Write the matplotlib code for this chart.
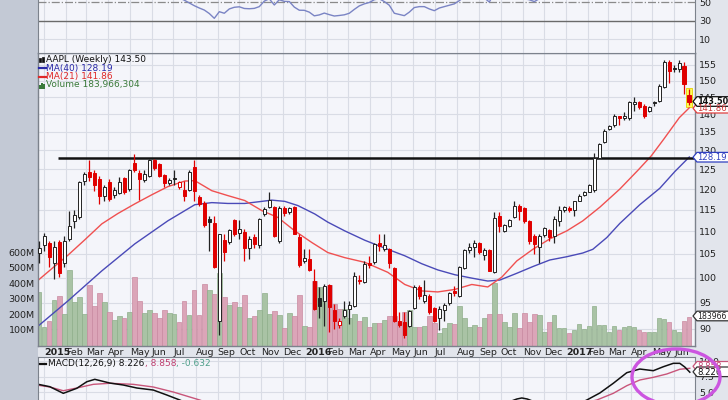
import datetime as dt
import numpy as np
import matplotlib
matplotlib.use("Agg")
import matplotlib.pyplot as plt
from matplotlib.patches import Rectangle, Ellipse, Polygon
from matplotlib.lines import Line2D

plt.rcParams['font.family'] = ['DejaVu Sans']

# ---------------- data (weekly AAPL) ----------------
first_bar = dt.date(2014, 12, 19)
prev_close0 = 105.0
opens = [105.3, 106.9, 107.3, 103.1, 107.6, 103.1, 108.2, 112.4, 113.2, 122.1,
         124.2, 124.0, 122.6, 118.4, 121.7, 118.6, 119.1, 122.8, 120.0, 126.6,
         124.0, 122.3, 123.4, 127.5, 126.3, 123.5, 121.4, 122.8, 120.5, 119.8,
         119.8, 125.6, 118.1, 116.6, 112.8, 112.0, 91.5, 108.0, 107.7, 112.6,
         109.7, 109.9, 106.3, 108.8, 107.0, 113.9, 115.7, 115.7, 107.8, 115.5,
         114.5, 115.7, 108.8, 103.4, 103.9, 99.3, 95.8, 95.3, 98.5, 93.5,
         90.8, 92.4, 93.7, 94.4, 99.6, 99.2, 103.0, 103.2, 107.5, 106.0,
         106.0, 102.0, 91.5, 91.2, 90.6, 94.0, 98.0, 95.4, 96.3, 93.9,
         92.1, 93.5, 94.9, 97.2, 96.3, 102.0, 105.9, 106.6, 107.5, 104.8,
         105.8, 101.1, 113.6, 110.1, 111.3, 113.3, 116.0, 115.4, 112.3, 109.0,
         106.6, 109.2, 110.3, 109.0, 112.3, 114.9, 115.5, 114.9, 117.2, 118.6,
         119.4, 119.8, 128.0, 132.3, 135.8, 136.9, 139.4, 138.9, 139.0, 143.0,
         143.5, 142.5, 141.0, 143.6, 144.0, 148.2, 155.8, 153.9, 153.6, 154.5,
         145.5]
highs = [107.9, 109.6, 107.9, 107.9, 108.0, 109.0, 114.8, 115.0, 122.1, 124.2,
         127.5, 124.7, 123.4, 120.9, 122.4, 120.5, 123.0, 123.1, 125.1, 129.0,
         124.9, 124.7, 127.7, 127.7, 126.6, 123.8, 122.8, 124.7, 122.1, 122.1,
         124.9, 127.5, 118.6, 117.2, 113.6, 113.6, 109.5, 109.3, 110.5, 112.8,
         112.6, 110.5, 109.0, 109.4, 113.1, 115.7, 119.4, 116.0, 116.0, 116.0,
         115.7, 116.0, 109.5, 106.1, 106.1, 101.8, 98.1, 98.6, 98.6, 94.8,
         92.0, 95.3, 95.3, 101.1, 100.5, 103.5, 104.6, 107.5, 109.5, 109.5,
         106.2, 102.2, 93.1, 93.1, 93.5, 98.5, 98.5, 99.6, 96.6, 94.1,
         94.4, 95.0, 97.0, 98.2, 102.5, 106.0, 107.4, 108.1, 107.7, 106.2,
         106.0, 114.4, 114.5, 111.6, 112.9, 117.2, 116.4, 115.6, 112.6, 109.4,
         109.4, 111.0, 110.5, 113.6, 116.0, 116.0, 116.0, 117.2, 118.8, 119.5,
         121.3, 129.3, 132.0, 135.7, 136.9, 140.1, 139.6, 140.5, 144.0, 145.0,
         144.0, 143.0, 142.5, 144.0, 149.1, 156.4, 156.4, 154.8, 156.4, 156.0,
         147.6]
lows = [103.1, 105.7, 102.2, 99.8, 100.2, 102.3, 107.9, 110.7, 112.9, 120.9,
        122.1, 119.6, 116.4, 117.2, 117.2, 117.7, 118.8, 118.9, 119.6, 124.2,
        117.4, 121.7, 122.9, 124.7, 122.9, 120.5, 120.9, 120.9, 120.0, 117.2,
        119.6, 117.2, 116.0, 111.1, 105.7, 101.9, 88.8, 103.5, 107.2, 109.0,
        108.3, 103.5, 104.0, 106.2, 106.4, 113.6, 115.5, 108.7, 107.3, 113.6,
        114.1, 109.4, 102.2, 103.0, 101.3, 93.6, 92.1, 90.6, 89.4, 90.0,
        90.2, 92.1, 90.9, 94.1, 98.6, 98.9, 102.1, 102.9, 105.7, 105.7,
        102.1, 91.2, 90.3, 88.4, 90.3, 93.8, 95.6, 94.9, 92.8, 91.2,
        89.7, 91.5, 94.6, 96.2, 96.1, 101.8, 105.3, 104.3, 104.9, 103.8,
        101.3, 100.9, 109.9, 109.9, 111.0, 113.0, 112.5, 112.0, 107.2, 105.0,
        103.1, 108.8, 107.9, 107.4, 111.3, 114.5, 114.5, 113.6, 117.0, 118.4,
        119.2, 119.2, 127.9, 131.9, 135.4, 136.3, 136.9, 138.4, 138.4, 141.0,
        141.5, 139.0, 140.6, 142.5, 143.7, 147.9, 149.2, 152.8, 152.6, 145.9,
        142.8]
closes = [106.4, 108.9, 104.3, 106.6, 100.9, 107.9, 111.2, 113.7, 121.7, 123.8,
          123.0, 120.9, 118.4, 120.5, 117.6, 119.8, 121.7, 119.3, 124.9, 124.7,
          122.5, 123.8, 127.3, 125.4, 123.4, 121.6, 122.3, 122.4, 121.7, 118.4,
          124.4, 119.6, 116.4, 111.5, 112.1, 102.2, 109.3, 105.4, 110.3, 109.5,
          110.6, 106.4, 108.3, 107.2, 112.8, 115.2, 117.3, 108.9, 115.5, 114.3,
          115.3, 109.5, 102.7, 104.1, 101.5, 93.8, 94.3, 98.3, 94.2, 91.5,
          91.4, 93.5, 94.5, 100.4, 99.4, 102.9, 102.6, 107.1, 106.8, 106.9,
          103.0, 91.5, 90.8, 88.8, 93.3, 98.1, 96.3, 96.4, 93.1, 91.5,
          93.8, 94.6, 96.9, 96.8, 102.2, 105.9, 106.5, 107.5, 105.4, 105.8,
          101.4, 113.1, 111.3, 111.4, 112.6, 116.0, 114.8, 112.3, 107.9, 107.2,
          109.0, 110.7, 108.8, 112.8, 115.0, 115.6, 115.0, 117.0, 118.4, 119.2,
          120.9, 128.0, 131.6, 135.2, 136.6, 139.6, 138.9, 139.5, 143.5, 143.7,
          142.0, 139.6, 142.2, 143.3, 148.5, 155.8, 153.0, 153.6, 155.5, 148.9,
          143.5]
volume_m = [345, 121, 158, 294, 320, 205, 485, 283, 313, 201,
            390, 255, 341, 281, 216, 163, 190, 175, 216, 442,
            285, 212, 229, 212, 175, 229, 208, 205, 154, 287,
            197, 358, 197, 399, 356, 330, 470, 313, 261, 283,
            248, 326, 179, 190, 227, 337, 201, 223, 197, 115,
            208, 190, 326, 126, 121, 416, 377, 377, 390, 270,
            234, 234, 179, 205, 158, 184, 119, 147, 147, 163,
            190, 190, 147, 218, 227, 119, 119, 126, 190, 147,
            83, 115, 147, 140, 255, 179, 119, 132, 119, 175,
            201, 405, 201, 154, 121, 210, 111, 208, 154, 201,
            195, 89, 150, 195, 111, 115, 79, 98, 137, 108,
            126, 255, 132, 132, 87, 126, 98, 119, 126, 121,
            100, 87, 87, 87, 179, 169, 152, 100, 87, 158,
            184]

ma40_bar = [-0.5, 5.7, 12.5, 19.1, 25.7, 31.1, 34.5, 37.7, 41.1, 44.5, 46.5, 49.1,
            51.7, 55.1, 57.7, 61.1, 65.1, 69.7, 73.1, 76.5, 79.7, 83.1, 86.5, 89.7,
            92.1, 95.5, 98.7, 102.1, 105.5, 108.7, 110.7, 113.5, 116.1, 120.1, 124.1,
            127.1, 130.0]
ma40_val = [90.3, 95.3, 101.4, 107.2, 112.4, 116.2, 116.7, 116.5, 116.5, 117.0, 117.3, 117.0,
            116.0, 114.0, 112.1, 110.1, 108.0, 106.0, 104.6, 102.9, 101.6, 100.6, 99.9, 99.3,
            99.5, 100.9, 102.3, 103.7, 104.4, 105.2, 106.0, 108.6, 111.8, 116.2, 120.2,
            124.4, 128.19]
ma21_bar = [-0.3, 3.1, 5.7, 9.1, 12.5, 15.7, 19.1, 22.5, 25.7, 29.1, 31.1, 34.5, 37.7,
            41.1, 44.5, 47.7, 51.1, 54.5, 57.7, 61.1, 65.1, 69.7, 73.1, 76.5, 79.7,
            83.1, 86.5, 89.7, 92.5, 95.5, 98.7, 102.1, 105.5, 108.7, 112.1, 116.1,
            119.7, 122.4, 124.9, 128.0, 130.0]
ma21_val = [99.4, 102.4, 104.7, 108.1, 111.7, 114.1, 116.4, 118.6, 120.6, 122.0, 122.1, 119.6, 118.4,
            117.2, 114.8, 113.2, 110.1, 107.5, 105.3, 104.2, 103.2, 101.1, 98.6, 97.3, 97.1,
            97.6, 98.6, 98.1, 100.1, 103.5, 106.0, 108.3, 110.1, 112.4, 115.6, 120.0,
            124.7, 128.5, 133.0, 139.0, 141.86]
resistance_level = 128.0
resistance_from_bar = 3.7

rsi_first_bar = 26
rsi_vals = [58, 56, 55, 52.5, 49.5, 46.5, 44.0, 41.8, 38.0, 32.8,
            40.0, 38.3, 43.0, 44.8, 45.3, 43.5, 43.2, 43.6, 45.5, 51.5,
            54.0, 47.3, 53.0, 51.2, 51.0, 45.0, 41.6, 41.5, 39.5, 35.5,
            36.5, 38.5, 36.8, 35.3, 35.9, 36.6, 38.3, 42.5, 46.3, 48.5,
            50.0, 53.0, 54.0, 51.0, 47.0, 38.3, 37.0, 35.7, 39.5, 44.5,
            45.5, 45.5, 43.0, 41.1, 44.0, 45.5, 47.0, 48.5, 52.0, 56.0,
            57.0, 57.0, 54.0, 55.0, 50.5, 60.0, 58.0, 57.0, 58.0, 60.0,
            57.0, 54.0, 53.0, 51.0, 54.0, 57.0]

macd_bar = [-0.5, 2.1, 4.8, 7.5, 9.5, 11.1, 14.1, 16.8, 19.5, 22.8, 25.5, 28.1, 30.5]
macd_val = [6.32, 5.89, 4.82, 5.63, 6.69, 7.08, 6.48, 6.16, 5.68, 5.35, 4.55, 3.74, 2.9]
macd_bar2 = [93.5, 95.5, 96.5, 97.6, 99.5, 107.5, 109.5, 112.1, 114.8, 117.5, 120.1, 122.8,
             124.8, 126.8, 128.1, 129.1, 130.1]
macd_val2 = [3.3, 3.9, 4.07, 3.9, 3.3, 3.0, 3.74, 4.87, 6.44, 8.15, 8.74, 8.47,
             9.11, 9.66, 9.66, 9.06, 8.23]
sig_bar = [-0.5, 2.1, 4.8, 7.5, 10.8, 14.1, 18.8, 22.8, 26.8, 32.1, 34.5]
sig_val = [6.16, 5.84, 5.24, 5.68, 6.27, 6.44, 6.27, 5.84, 5.03, 3.74, 3.0]
sig_bar2 = [107.0, 111.5, 114.8, 117.5, 120.1, 122.8, 125.5, 128.1, 130.1]
sig_val2 = [2.9, 3.74, 4.82, 6.05, 6.97, 7.40, 7.94, 8.70, 8.86]

price_ticks = [90, 95, 100, 105, 110, 115, 120, 125, 130, 135, 140, 145, 150, 155]
vol_ticks = [100, 200, 300, 400, 500, 600]
macd_ticks = [5.0, 7.5, 10.0]

# ---------------- styling / layout ----------------
W, H = 728, 400
PLOT_BG = '#f4f5fa'
GRID = '#d9dce5'
LEFT_BG = '#c3c9d5'
RIGHT_BG = '#e2e5ec'
SPINE = '#7c828c'
XMIN, XMAX = -0.36, 131.14
L, R = 37.5, 695.0


def rect(x0, x1, ytop, ybot):
    return [x0 / W, 1 - ybot / H, (x1 - x0) / W, (ybot - ytop) / H]


def fp(x, y):
    return (x / W, 1 - y / H)


fig = plt.figure(figsize=(W / 100, H / 100), dpi=100)
fig.patch.set_facecolor(RIGHT_BG)
fig.add_artist(Rectangle((0, 0), L / W, 1, transform=fig.transFigure,
                         facecolor=LEFT_BG, edgecolor='none', zorder=-20))

n = len(closes)
xs = np.arange(n)
prevs = [prev_close0] + closes[:-1]
up = [c >= p for c, p in zip(closes, prevs)]

# month gridlines / labels
month_pos, month_lab, month_bold = [], [], []
for y in (2015, 2016, 2017):
    for m in range(1, 13):
        d = dt.date(y, m, 1)
        p = (d - first_bar).days / 7.0 - 0.9
        if XMIN < p < XMAX - 1:
            month_pos.append(p)
            month_lab.append(str(y) if m == 1 else d.strftime('%b'))
            month_bold.append(m == 1)

# ---------------- main price panel ----------------
ax = fig.add_axes(rect(L, R, 53.3, 345.5))
ax.set_facecolor(PLOT_BG)
ax.set_yscale('log')
ax.set_ylim(86.96, 158.7)
ax.set_xlim(XMIN, XMAX)
ax.yaxis.set_minor_locator(matplotlib.ticker.NullLocator())
ax.set_yticks(price_ticks, [str(t) for t in price_ticks])
ax.yaxis.tick_right()
ax.tick_params(axis='y', length=0, pad=3, labelsize=6.8, labelcolor='#222222')
ax.set_xticks(month_pos, month_lab)
ax.tick_params(axis='x', length=0, pad=1.5, labelsize=6.8, labelcolor='#222222')
for lbl, b in zip(ax.get_xticklabels(), month_bold):
    lbl.set_ha('left')
    if b:
        lbl.set_fontweight('bold')
ax.grid(True, color=GRID, lw=0.8)
ax.set_axisbelow(True)
for s in ax.spines.values():
    s.set_visible(False)

# volume (twin, linear)
vax = fig.add_axes(rect(L, R, 53.3, 345.5))
vax.patch.set_visible(False)
vax.set_xlim(XMIN, XMAX)
vax.set_ylim(0, 1885)
vcols = ['#a9c3a5' if u else '#dba5b8' for u in up]
vedge = ['#8fae8b' if u else '#c98aa0' for u in up]
vax.bar(xs, volume_m, width=0.88, color=vcols, edgecolor=vedge, lw=0.5)
vax.set_yticks(vol_ticks, [f'{v}M' for v in vol_ticks])
vax.yaxis.tick_left()
vax.tick_params(axis='y', length=0, pad=2, labelsize=6.8, labelcolor='#222222')
vax.tick_params(axis='x', bottom=False, labelbottom=False)
for s in vax.spines.values():
    s.set_visible(False)

# candles / MAs on top
tax = fig.add_axes(rect(L, R, 53.3, 345.5))
tax.patch.set_visible(False)
tax.set_yscale('log')
tax.set_ylim(86.96, 158.7)
tax.set_xlim(XMIN, XMAX)
tax.set_xticks([])
tax.yaxis.set_minor_locator(matplotlib.ticker.NullLocator())
tax.set_yticks([])
for s in tax.spines.values():
    s.set_color(SPINE)
    s.set_linewidth(1.0)

# highlight of last bar
tax.add_patch(Rectangle((n - 1 - 0.62, 142.1), 1.24, 147.9 - 142.1,
                        facecolor='#ffff55', edgecolor='#e6cf00', lw=0.6, zorder=1))

tax.plot(ma40_bar, ma40_val, color='#4a4ab8', lw=1.0, zorder=2)
tax.plot(ma21_bar, ma21_val, color='#f05050', lw=1.0, zorder=2)
tax.hlines(resistance_level, resistance_from_bar, XMAX, color='#111111', lw=1.8, zorder=3)

for i in range(n):
    o, h, l, c = opens[i], highs[i], lows[i], closes[i]
    col = '#222222' if up[i] else '#e00000'
    tax.vlines(i, l, h, color=col, lw=0.9, zorder=4)
    face = 'white' if c >= o else col
    lo, hi = min(o, c), max(o, c)
    if hi / lo < 1.002:
        hi = lo * 1.002
    tax.bar(i, hi - lo, bottom=lo, width=0.72, facecolor=face, edgecolor=col,
            lw=0.7, zorder=5)

# ---------------- RSI-type panel on top ----------------
rax = fig.add_axes(rect(L, R, 0, 53.3))
rax.set_facecolor(PLOT_BG)
rax.set_xlim(XMIN, XMAX)
rax.set_ylim(-5.2, 52.7)
rax.set_xticks(month_pos)
rax.tick_params(axis='x', length=0, labelbottom=False)
rax.set_yticks([10, 30, 50], ['10', '30', '50'])
rax.yaxis.tick_right()
rax.tick_params(axis='y', length=0, pad=3, labelsize=6.8, labelcolor='#222222')
rax.grid(True, axis='x', color=GRID, lw=0.8)
rax.axhline(10, color=GRID, lw=0.8)
rax.axhline(30, color='#6a6a6a', lw=1.0)
rax.axhline(50, color='#8a8a8a', lw=0.9, ls='-.')
rax.plot(np.arange(rsi_first_bar, rsi_first_bar + len(rsi_vals)), rsi_vals,
         color='#7a84c4', lw=1.0)
for k, s in rax.spines.items():
    s.set_color(SPINE)
    s.set_visible(k != 'top')

# ---------------- MACD panel ----------------
max_ = fig.add_axes(rect(L, R, 357, 410))
max_.set_facecolor(PLOT_BG)
max_.set_xlim(XMIN, XMAX)
max_.set_ylim(2.13, 10.68)
max_.set_xticks(month_pos)
max_.tick_params(axis='x', length=0, labelbottom=False)
max_.set_yticks(macd_ticks, ['5.0', '7.5', '10.0'])
max_.yaxis.tick_right()
max_.tick_params(axis='y', length=0, pad=3, labelsize=6.8, labelcolor='#222222')
max_.grid(True, color=GRID, lw=0.8)
max_.plot(sig_bar, sig_val, color='#c8557a', lw=1.0)
max_.plot(sig_bar2, sig_val2, color='#c8557a', lw=1.0)
max_.plot(macd_bar, macd_val, color='#111111', lw=1.1)
max_.plot(macd_bar2, macd_val2, color='#111111', lw=1.1)
for k, s in max_.spines.items():
    s.set_color(SPINE)
    s.set_visible(k != 'bottom')

# ---------------- legends ----------------
FS = 6.5
fig.add_artist(Rectangle(fp(39.2, 61.5), 1.6 / W, 4 / H, transform=fig.transFigure,
                         facecolor='#111111', edgecolor='#111111', lw=0.5))
fig.add_artist(Rectangle(fp(42.0, 62.0), 1.6 / W, 5 / H, transform=fig.transFigure,
                         facecolor='#111111', edgecolor='#111111', lw=0.5))
fig.text(*fp(45.5, 59.5), 'AAPL (Weekly) 143.50', fontsize=FS, color='#111111', va='center')
fig.add_artist(Line2D([39 / W, 45.5 / W], [1 - 68 / H] * 2, color='#2a2aa8', lw=1.6))
fig.text(*fp(46.5, 68), 'MA(40) 128.19', fontsize=FS, color='#2a2aa8', va='center')
fig.add_artist(Line2D([39 / W, 45.5 / W], [1 - 76.5 / H] * 2, color='#e02828', lw=1.6))
fig.text(*fp(46.5, 76.5), 'MA(21) 141.86', fontsize=FS, color='#e02828', va='center')
for bx, bh in ((39.2, 3.5), (41.2, 5.5), (43.2, 4.5)):
    fig.add_artist(Rectangle(fp(bx, 88.5), 1.5 / W, bh / H, transform=fig.transFigure,
                             facecolor='#3a7a3a', edgecolor='none'))
fig.text(*fp(45.5, 85), 'Volume 183,966,304', fontsize=FS, color='#3a7a3a', va='center')

# MACD legend pieces
fig.add_artist(Line2D([39.5 / W, 46 / W], [1 - 363.5 / H] * 2, color='#111111', lw=1.6))
fig.canvas.draw()
rend = fig.canvas.get_renderer()
xcur = 48.5
for txt, colr in (('MACD(12,26,9) 8.226', '#111111'), (', 8.858', '#c04070'),
                  (', -0.632', '#4f9f8a')):
    t = fig.text(*fp(xcur, 363.5), txt, fontsize=FS, color=colr, va='center')
    bb = t.get_window_extent(renderer=rend)
    xcur += bb.width


# ---------------- right-side value tags ----------------
def tag(y, text, edge, tcolor, bold=False, hh=4.8, fs=6.1):
    pts = [fp(693, y), fp(697, y - hh), fp(735, y - hh), fp(735, y + hh), fp(697, y + hh)]
    fig.add_artist(Polygon(pts, closed=True, transform=fig.transFigure,
                           facecolor='white', edgecolor=edge, lw=0.9, zorder=10))
    fig.text(*fp(697.5, y + 0.3), text, fontsize=fs, color=tcolor, va='center',
             fontweight='bold' if bold else 'normal', zorder=11)


tag(108.2, '141.86', '#e04040', '#d03a3a')
tag(101.5, '143.50', '#111111', '#111111', bold=True, fs=5.9)
tag(157.2, '128.19', '#3040c0', '#3040c0')
tag(316.0, '183966', '#333333', '#222222', fs=5.6)
tag(366.3, '8.858', '#c8557a', '#c04070')
tag(371.8, '8.226', '#333333', '#111111')

# annotation ellipse
fig.add_artist(Ellipse(fp(676, 377), 88 / W, 56 / H, transform=fig.transFigure,
                       facecolor='none', edgecolor='#cc55e0', lw=2.4, zorder=20))

fig.savefig('out.png', dpi=100, facecolor=fig.get_facecolor())
